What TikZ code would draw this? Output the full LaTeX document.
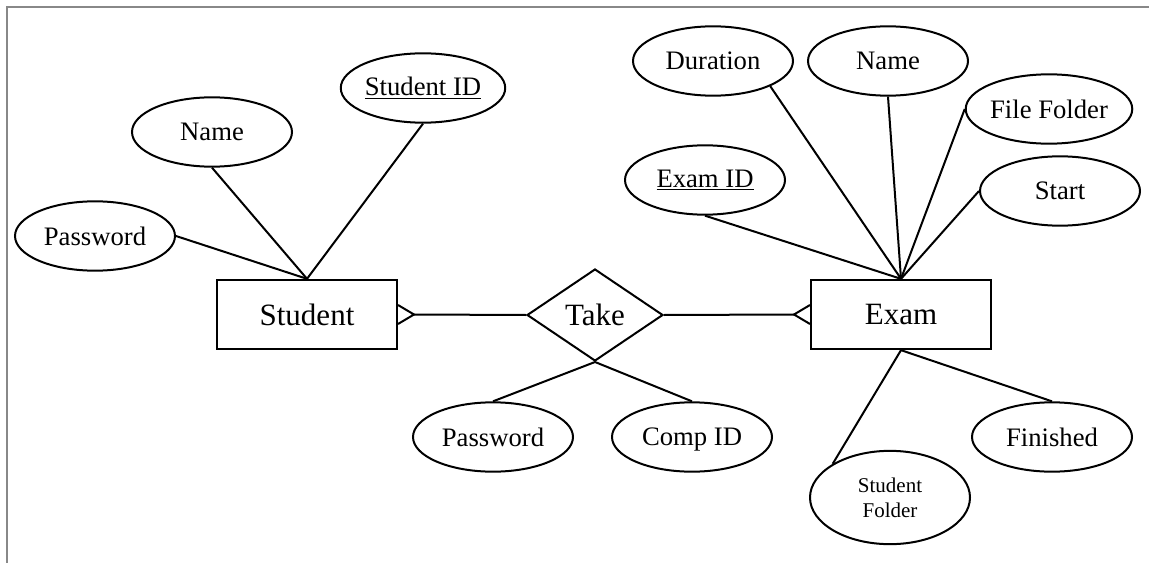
\documentclass[tikz,border=0pt]{standalone}
\usepackage{fontspec}
\setmainfont{Liberation Serif}
\usetikzlibrary{shapes.geometric}
\definecolor{framegray}{RGB}{136,136,136}

\begin{document}
\begin{tikzpicture}[x=0.75pt,y=-0.75pt,line width=1.5pt,
		entity/.style={draw, rectangle, minimum width=135pt, minimum height=52pt, font=\fontsize{23.25}{28}\selectfont},
		attrib/.style={draw, ellipse, inner sep=0pt, minimum width=120pt, minimum height=52pt, font=\fontsize{20}{24}\selectfont},
		relation/.style={draw, diamond, inner sep=0pt, minimum width=102pt, minimum height=69pt, font=\fontsize{23.25}{28}\selectfont}]
		\useasboundingbox (0,0) rectangle (1149,563);
		\draw[framegray, line width=1.5pt] (7,563) -- (7,7) -- (1149,7);
		
		% entities and relation
		\node (student) [entity] at (307,314.5) {Student};
		\node (exam) [entity] at (901,314.5) {Exam};
		\node (take) [relation] at (595,315) {Take};
		
		% student attributes
		\node (spass) [attrib] at (95,236) {Password};
		\node (sname) [attrib] at (212,132) {Name};
		\node (sid) [attrib] at (423,88) {\underline{Student ID}};
		
		% exam attributes
		\node (eid) [attrib] at (705,180) {\underline{Exam ID}};
		\node (dur) [attrib] at (713,61) {Duration};
		\node (ename) [attrib] at (888,61) {Name};
		\node (ffold) [attrib] at (1049,109) {File Folder};
		\node (start) [attrib] at (1060,191) {Start};
		\node (fin) [attrib] at (1052,437) {Finished};
		\node (sfold) [attrib, minimum height=70pt, align=center, font=\fontsize{15.75}{18.75}\selectfont] at (890,497.5) {Student\\Folder};
		
		% take attributes
		\node (tpass) [attrib] at (493,437) {Password};
		\node (comp) [attrib, text depth=0pt] at (692,437) {Comp ID};
		
		\draw (spass.east) -- (student.north);
		\draw (sname.south) -- (student.north);
		\draw (sid.south) -- (student.north);
		
		\draw (eid.south) -- (exam.north);
		\draw (dur.south east) -- (exam.north);
		\draw (ename.south) -- (exam.north);
		\draw (ffold.west) -- (exam.north);
		\draw (start.west) -- (exam.north);
		\draw (exam.south) -- (sfold.north west);
		\draw (exam.south) -- (fin.north);
		
		\draw (take.south) -- (tpass.north);
		\draw (take.south) -- (comp.north);
		
		% many side
		\draw (take.west) -- ([xshift=12pt]student.east);
		\draw (student.east) ++(0,-9.5) -- ++(16,9.5) -- ++(-16,9.5);
		\draw (take.east) -- ([xshift=-12pt]exam.west);
		\draw (exam.west) ++(0,-9.5) -- ++(-16,9.5) -- ++(16,9.5);
	\end{tikzpicture}
\end{document}
